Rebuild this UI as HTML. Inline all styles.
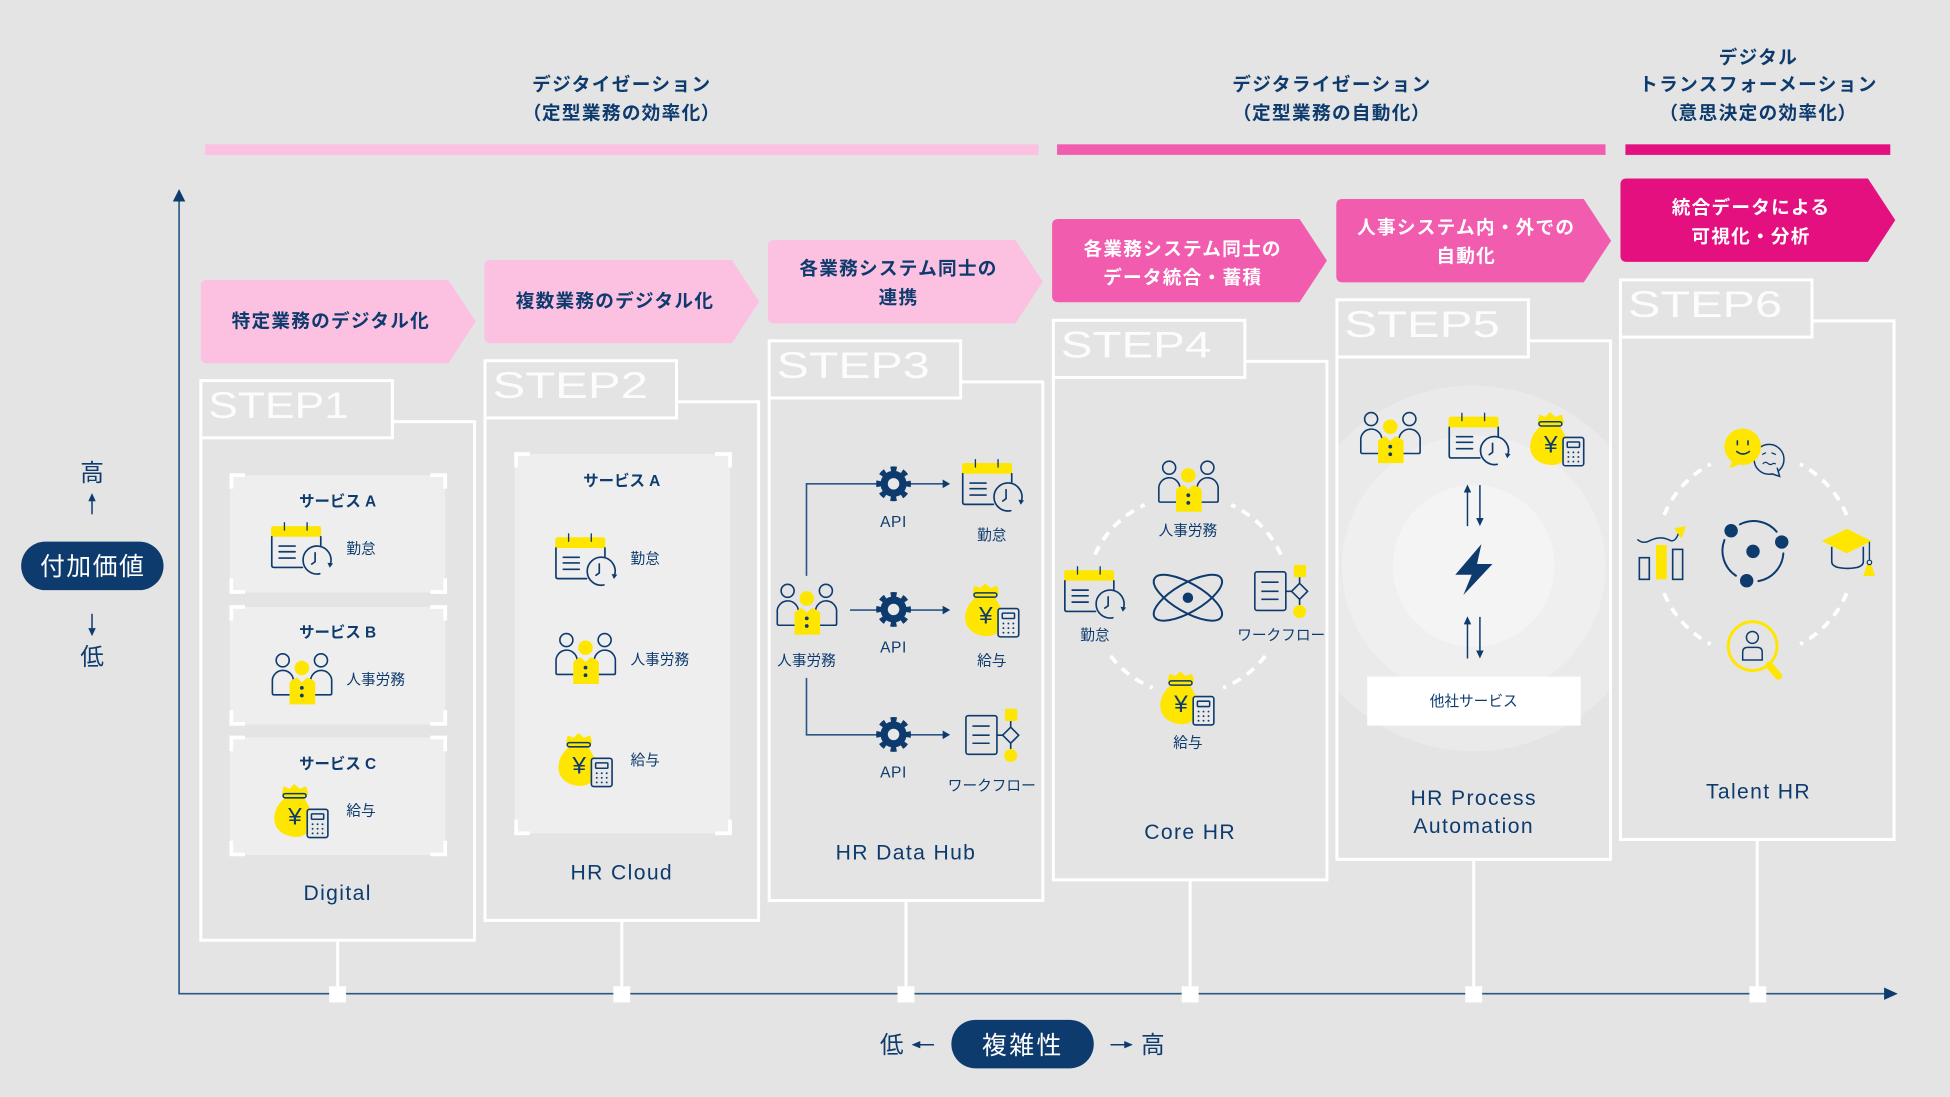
<!DOCTYPE html>
<html lang="ja">
<head>
<meta charset="utf-8">
<title>HR Steps</title>
<style>
html,body{margin:0;padding:0;background:#e4e4e4;}
svg{display:block;}
text{font-family:"Liberation Sans","Noto Sans CJK JP",sans-serif;fill:#0e3b6e;text-anchor:middle;dominant-baseline:central;transform:translateY(1px);}
.h{font-size:15px;font-weight:700;letter-spacing:1.1px;}
.hp{font-size:15px;font-weight:700;letter-spacing:1.1px;font-feature-settings:"palt";}
.a{font-size:15px;font-weight:700;letter-spacing:1px;}
.w{fill:#fff;}
.s{font-size:12.4px;font-weight:700;}
.l{font-size:11.8px;font-weight:400;}
.ll{font-size:11.8px;font-weight:400;text-anchor:start;}
.n{font-size:17px;letter-spacing:1.1px;font-weight:400;}
.st{font-size:30px;fill:#fff;text-anchor:start;dominant-baseline:alphabetic;transform:none;opacity:.92;}
.ax{font-size:19px;}
.pill{font-size:20px;fill:#fff;letter-spacing:1.2px;}
.api{font-size:12.5px;letter-spacing:.5px;}
.yen{font-size:64px;transform:none;}
</style>
</head>
<body>
<svg xmlns="http://www.w3.org/2000/svg" width="1950" height="1097" viewBox="0 0 1568 882">
<defs>
  <path id="pent" d="M5 0H199L221 33.500L199 67H5Q0 67 0 62V5Q0 0 5 0Z"/>
  <g id="box" fill="none" stroke="#fff" stroke-width="2.400">
    <rect x="0" y="0" width="154" height="46"/>
    <path d="M154 33H220V450H0V46"/>
  </g>
  <g id="cal" transform="scale(.268)" fill="none" stroke="#0e3b6e" stroke-width="5" stroke-linecap="round" stroke-linejoin="round">
    <path d="M8 10H142Q150 10 150 18V42H0V18Q0 10 8 10Z" fill="#ffe600" stroke="none"/>
    <path d="M40 0V22M108 0V22" stroke-width="4"/>
    <path d="M2 42V128Q2 134 8 134H94M149 42V68"/>
    <path d="M24 70H72M24 87H72M24 106H72"/>
    <path d="M146 153A42 42 0 1 1 178 124"/>
    <path d="M132 90V117L122 124"/>
    <path d="M169 120L186 122L176 135Z" fill="#0e3b6e" stroke="none"/>
  </g>
  <g id="ppl" transform="scale(.3077)" fill="none" stroke="#0e3b6e" stroke-width="4.200" stroke-linejoin="round">
    <circle cx="29" cy="15" r="17"/>
    <circle cx="129" cy="15" r="17"/>
    <path d="M47 105H6Q2 105 2 101V72A27 27 0 0 1 57 66"/>
    <path d="M112 105H153Q157 105 157 101V72A27 27 0 0 0 102 66"/>
    <circle cx="79" cy="35" r="19" fill="#ffe600" stroke="none"/>
    <path d="M47 74Q47 68 66 60L79 72L93 60Q114 68 114 74V130H47Z" fill="#ffe600" stroke="none"/>
    <circle cx="79" cy="87" r="5" fill="#0e3b6e" stroke="none"/>
    <circle cx="79" cy="107" r="5" fill="#0e3b6e" stroke="none"/>
  </g>
  <g id="bag" transform="scale(.3077)">
    <path d="M19 24L23 6L38 12L50 0L64 12L80 6L85 24Z" fill="#ffe600" stroke="#ffe600" stroke-width="3" stroke-linejoin="round"/>
    <path d="M26 34C6 50 -2 70 -2 88C-2 118 24 134 50 136C85 138 100 112 98 86C96 66 84 50 76 34Z" fill="#ffe600"/>
    <rect x="21" y="23" width="60" height="11" rx="5.500" fill="#ffe600" stroke="#0e3b6e" stroke-width="4"/>
    <text x="52" y="84" class="yen">¥</text>
    <rect x="84" y="64" width="54" height="74" rx="6" fill="#e9e9e9" stroke="#0e3b6e" stroke-width="4.200"/>
    <rect x="95" y="76" width="32" height="14" rx="2" fill="none" stroke="#0e3b6e" stroke-width="4"/>
    <g fill="#0e3b6e">
      <circle cx="98" cy="103" r="2.500"/><circle cx="111" cy="103" r="2.500"/><circle cx="124" cy="103" r="2.500"/>
      <circle cx="98" cy="115" r="2.500"/><circle cx="111" cy="115" r="2.500"/><circle cx="124" cy="115" r="2.500"/>
      <circle cx="98" cy="127" r="2.500"/><circle cx="111" cy="127" r="2.500"/><circle cx="124" cy="127" r="2.500"/>
    </g>
  </g>
  <g id="wf" transform="scale(.3077)" fill="none" stroke="#0e3b6e" stroke-width="4.200" stroke-linejoin="round">
    <rect x="1" y="18" width="81" height="101" rx="6"/>
    <path d="M18 45H63M18 69H63M18 90H63"/>
    <path d="M82 69H97M118 32V48M118 90V105"/>
    <path d="M118 48L139 69L118 90L97 69Z"/>
    <rect x="103" y="0" width="32" height="32" rx="3" fill="#ffe600" stroke="none"/>
    <circle cx="118" cy="122" r="17" fill="#ffe600" stroke="none"/>
  </g>
  <g id="gear">
    <circle r="10.500" fill="#0e3b6e"/>
    <circle r="12" fill="none" stroke="#0e3b6e" stroke-width="4" stroke-dasharray="4.712 4.712" stroke-dashoffset="2.356"/>
    <circle r="4.600" fill="#e8e8e8"/>
  </g>
  <clipPath id="c5"><rect x="1076" y="274" width="218" height="416"/></clipPath>
</defs>

<rect width="1568" height="882" fill="#e4e4e4"/>

<!-- headers -->
<text x="500" y="67" class="h">デジタイゼーション</text>
<text x="500" y="90" class="hp">（定型業務の効率化）</text>
<text x="1071" y="67" class="h">デジタライゼーション</text>
<text x="1071" y="90" class="hp">（定型業務の自動化）</text>
<text x="1414" y="45" class="h">デジタル</text>
<text x="1414" y="67" class="h">トランスフォーメーション</text>
<text x="1414" y="90" class="hp">（意思決定の効率化）</text>

<rect x="165" y="116" width="670" height="8.500" fill="#fcc0e1"/>
<rect x="850" y="116" width="441" height="8.500" fill="#f25cae"/>
<rect x="1307" y="116" width="213" height="8.500" fill="#e5107f"/>

<!-- axes -->
<path d="M144 160V799H1518" fill="none" stroke="#2a5688" stroke-width="1.300"/>
<path d="M144 152L149 162H139Z" fill="#0e3b6e"/>
<path d="M1526 799L1515 794V804Z" fill="#0e3b6e"/>

<!-- connectors -->
<g fill="none" stroke="#fff" stroke-width="2.400">
  <path d="M271.500 756V795M500 740V795M728.500 724V795M957 707V795M1185 691V795M1413 675V795"/>
</g>
<g fill="#fff">
  <rect x="264.700" y="793" width="13.600" height="13"/>
  <rect x="493.200" y="793" width="13.600" height="13"/>
  <rect x="721.700" y="793" width="13.600" height="13"/>
  <rect x="950.200" y="793" width="13.600" height="13"/>
  <rect x="1178.200" y="793" width="13.600" height="13"/>
  <rect x="1406.700" y="793" width="13.600" height="13"/>
</g>

<!-- left axis label -->
<text x="74" y="380" class="ax">高</text>
<path d="M74 401V413.500" stroke="#0e3b6e" stroke-width="1.200"/>
<path d="M74 396.500L77 403H71Z" fill="#0e3b6e"/>
<rect x="17" y="435.500" width="114.500" height="39" rx="19.500" fill="#0e3b6e"/>
<text x="74.500" y="455" class="pill">付加価値</text>
<path d="M74 493.500V506" stroke="#0e3b6e" stroke-width="1.200"/>
<path d="M74 511.500L77 505H71Z" fill="#0e3b6e"/>
<text x="74" y="528" class="ax">低</text>

<!-- bottom axis label -->
<text x="717" y="840" class="ax">低</text>
<path d="M738 840H751" stroke="#0e3b6e" stroke-width="1.200"/>
<path d="M733 840L740 837V843Z" fill="#0e3b6e"/>
<rect x="765" y="820" width="114.500" height="39" rx="19.500" fill="#0e3b6e"/>
<text x="822.500" y="840" class="pill" style="letter-spacing:2px">複雑性</text>
<path d="M893 840H906" stroke="#0e3b6e" stroke-width="1.200"/>
<path d="M911 840L904 837V843Z" fill="#0e3b6e"/>
<text x="927" y="840" class="ax">高</text>

<!-- arrow banners -->
<use href="#pent" x="161.500" y="225" fill="#fcc0e1"/>
<use href="#pent" x="389.500" y="209" fill="#fcc0e1"/>
<use href="#pent" x="617.500" y="193" fill="#fcc0e1"/>
<use href="#pent" x="846" y="176" fill="#f25cae"/>
<use href="#pent" x="1074.500" y="160" fill="#f25cae"/>
<use href="#pent" x="1303" y="143.500" fill="#e5107f"/>
<text x="266" y="257" class="a">特定業務のデジタル化</text>
<text x="494.500" y="241" class="a">複数業務のデジタル化</text>
<text x="722.500" y="215" class="a">各業務システム同士の</text>
<text x="722.500" y="238" class="a">連携</text>
<text x="951" y="199" class="a w">各業務システム同士の</text>
<text x="951" y="222" class="a w">データ統合・蓄積</text>
<text x="1179" y="182" class="a w">人事システム内・外での</text>
<text x="1179" y="205" class="a w">自動化</text>
<text x="1408" y="166" class="a w">統合データによる</text>
<text x="1408" y="189" class="a w">可視化・分析</text>

<!-- step 5 circles (below box lines) -->
<g clip-path="url(#c5)">
  <circle cx="1185" cy="457" r="147" fill="#eaeaea"/>
  <circle cx="1185" cy="456" r="106" fill="#efefef"/>
  <circle cx="1185" cy="455" r="65" fill="#f4f4f4"/>
</g>

<!-- boxes -->
<use href="#box" x="161.500" y="306"/>
<use href="#box" x="390" y="290"/>
<use href="#box" x="618.500" y="274"/>
<use href="#box" x="847" y="257.500"/>
<use href="#box" x="1075" y="241"/>
<use href="#box" x="1303" y="225"/>
<text x="167.500" y="336" class="st" textLength="113" lengthAdjust="spacingAndGlyphs">STEP1</text>
<text x="396" y="320" class="st" textLength="125" lengthAdjust="spacingAndGlyphs">STEP2</text>
<text x="624.500" y="304" class="st" textLength="123" lengthAdjust="spacingAndGlyphs">STEP3</text>
<text x="853" y="287.500" class="st" textLength="121" lengthAdjust="spacingAndGlyphs">STEP4</text>
<text x="1081" y="271" class="st" textLength="125" lengthAdjust="spacingAndGlyphs">STEP5</text>
<text x="1309" y="255" class="st" textLength="124" lengthAdjust="spacingAndGlyphs">STEP6</text>

<!-- step 1 cards -->
<g fill="#eeeeee">
  <rect x="185" y="382" width="173" height="94.500"/>
  <rect x="185" y="488" width="173" height="94.500"/>
  <rect x="185" y="593" width="173" height="94.500"/>
  <rect x="414" y="365" width="173" height="305"/>
</g>
<g fill="none" stroke="#fff" stroke-width="3">
  <path d="M186 393V382H197M346 382H358V393M186 465V476H197M346 476H358V465"/>
  <path d="M186 499V488H197M346 488H358V499M186 571V582H197M346 582H358V571"/>
  <path d="M186 604V593H197M346 593H358V604M186 676V687H197M346 687H358V676"/>
  <path d="M415 376V365H426M575 365H587V376M415 659V670H426M575 670H587V659"/>
</g>

<text x="271.500" y="402.500" class="s">サービス A</text>
<use href="#cal" x="218" y="420.300"/>
<text x="278.500" y="441" class="ll">勤怠</text>
<text x="271.500" y="508" class="s">サービス B</text>
<use href="#ppl" x="218.400" y="526.300"/>
<text x="278.500" y="546" class="ll">人事労務</text>
<text x="271.500" y="613.500" class="s">サービス C</text>
<use href="#bag" x="221.200" y="631"/>
<text x="278.500" y="651.500" class="ll">給与</text>
<text x="271.500" y="717.500" class="n">Digital</text>

<!-- step 2 -->
<text x="500" y="386" class="s">サービス A</text>
<use href="#cal" x="446.500" y="429.300"/>
<text x="507" y="449" class="ll">勤怠</text>
<use href="#ppl" x="446.500" y="510"/>
<text x="507" y="530" class="ll">人事労務</text>
<use href="#bag" x="449.700" y="590"/>
<text x="507" y="611" class="ll">給与</text>
<text x="500" y="701" class="n">HR Cloud</text>

<!-- step 3 -->
<g fill="none" stroke="#2a5688" stroke-width="1.300">
  <path d="M648.500 463V389H759"/>
  <path d="M683.500 490.500H759"/>
  <path d="M648.500 545V590.800H759"/>
</g>
<g fill="#0e3b6e">
  <path d="M764 389L758 385.500V392.500Z"/>
  <path d="M764 490.500L758 487V494Z"/>
  <path d="M764 590.800L758 587.300V594.300Z"/>
</g>
<use href="#gear" x="718.500" y="389"/>
<use href="#gear" x="718.500" y="490"/>
<use href="#gear" x="718.500" y="590.500"/>
<text x="718.500" y="419" class="api">API</text>
<text x="718.500" y="520" class="api">API</text>
<text x="718.500" y="620.500" class="api">API</text>
<use href="#ppl" x="624.400" y="470.400"/>
<text x="648.500" y="531" class="l">人事労務</text>
<use href="#cal" x="773.600" y="369.600"/>
<text x="797.500" y="430" class="l">勤怠</text>
<use href="#bag" x="776.700" y="469.600"/>
<text x="797.500" y="531" class="l">給与</text>
<use href="#wf" x="776.400" y="569.900"/>
<text x="797.500" y="631.500" class="l">ワークフロー</text>
<text x="728.500" y="685" class="n">HR Data Hub</text>

<!-- step 4 -->
<g fill="none" stroke="#fff" stroke-width="3" stroke-dasharray="7.500 6">
  <path d="M880.400 445.900A80.600 80.600 0 0 1 920.400 405.900"/>
  <path d="M1030 445.900A80.600 80.600 0 0 0 990 405.900"/>
  <path d="M893 527.400A80.600 80.600 0 0 0 926.900 553"/>
  <path d="M1017.400 527.400A80.600 80.600 0 0 1 983.500 553"/>
</g>
<use href="#ppl" x="931.200" y="371.400"/>
<text x="955.200" y="426.500" class="l">人事労務</text>
<use href="#cal" x="855.700" y="455.700"/>
<text x="880.400" y="510.500" class="l">勤怠</text>
<use href="#wf" x="1008.700" y="454.200"/>
<text x="1030.200" y="510.500" class="l">ワークフロー</text>
<use href="#bag" x="933.600" y="540.400"/>
<text x="955.200" y="597" class="l">給与</text>
<g fill="none" stroke="#0e3b6e" stroke-width="1.600">
  <ellipse cx="955.200" cy="480.600" rx="31" ry="11.500" transform="rotate(30 955.200 480.600)"/>
  <ellipse cx="955.200" cy="480.600" rx="31" ry="11.500" transform="rotate(-30 955.200 480.600)"/>
</g>
<circle cx="955.200" cy="480.600" r="4.200" fill="#0e3b6e"/>
<text x="957" y="668.500" class="n">Core HR</text>

<!-- step 5 -->
<use href="#ppl" x="1093.600" y="332.300"/>
<use href="#cal" x="1164.800" y="332.300"/>
<use href="#bag" x="1231" y="332"/>
<g stroke="#0e3b6e" stroke-width="1.200">
  <path d="M1180 394V423M1190 390V418M1180 500V529.500M1190 496V525"/>
</g>
<g fill="#0e3b6e">
  <path d="M1180 389.500L1183 396H1177Z"/>
  <path d="M1190 423L1193 416.500H1187Z"/>
  <path d="M1180 495.500L1183 502H1177Z"/>
  <path d="M1190 529.500L1193 523H1187Z"/>
  <path d="M1191.200 437.500L1170.200 462.100H1183.400L1176.700 478.400L1200.100 453.500H1187.700Z"/>
</g>
<rect x="1099.400" y="544" width="171.600" height="39.400" fill="#fff"/>
<text x="1185" y="563.500" class="l">他社サービス</text>
<text x="1185" y="641" class="n">HR Process</text>
<text x="1185" y="663.500" class="n">Automation</text>

<!-- step 6 -->
<g fill="none" stroke="#fff" stroke-width="3" stroke-dasharray="7.500 6">
  <path d="M1338.100 414.100A80.400 80.400 0 0 1 1375.600 373.100"/>
  <path d="M1484.900 414.100A80.400 80.400 0 0 0 1447.400 373.100"/>
  <path d="M1338.100 476.900A80.400 80.400 0 0 0 1375.600 517.900"/>
  <path d="M1484.900 476.900A80.400 80.400 0 0 1 1447.400 517.900"/>
</g>
<!-- faces -->
<circle cx="1422.500" cy="369.300" r="12" fill="#e4e4e4" stroke="#0e3b6e" stroke-width="1.200"/>
<path d="M1425 381L1431 383L1429 376" fill="#e4e4e4" stroke="#0e3b6e" stroke-width="1.200"/>
<path d="M1417 365.500L1420 364M1424.500 364L1428 365.500M1417.500 373Q1419.500 370.500 1421.500 372.500T1426 372.500L1428 373" fill="none" stroke="#0e3b6e" stroke-width="1"/>
<circle cx="1401.300" cy="359.200" r="14.700" fill="#ffe600"/>
<path d="M1394 368L1390.500 376.500L1402 372Z" fill="#ffe600"/>
<path d="M1397 354.500V357.500M1405.600 354.500V357.500M1396.500 363Q1401.300 367 1406.700 363" fill="none" stroke="#0e3b6e" stroke-width="1.300" stroke-linecap="round"/>
<!-- chart -->
<rect x="1318.200" y="448.400" width="8" height="17.400" fill="none" stroke="#0e3b6e" stroke-width="1.300"/>
<rect x="1331.600" y="438.200" width="8.600" height="27.600" fill="#ffe600"/>
<rect x="1345" y="441.700" width="8" height="24.100" fill="none" stroke="#0e3b6e" stroke-width="1.300"/>
<path d="M1316.600 433.700Q1321 437.500 1326 435T1335 432.500T1343 434.500T1350 428" fill="none" stroke="#0e3b6e" stroke-width="1.200"/>
<path d="M1355.700 423L1346.100 424.800L1352.200 432.900Z" fill="#ffe600"/>
<!-- center -->
<g fill="none" stroke="#0e3b6e" stroke-width="1.600" stroke-linecap="round">
  <path d="M1399.100 421.600A24.100 24.100 0 0 1 1428.600 427.500"/>
  <path d="M1434 444.900A24.100 24.100 0 0 1 1413.900 467.200"/>
  <path d="M1395.900 462.900A24.100 24.100 0 0 1 1386.600 434.200"/>
</g>
<g fill="#0e3b6e">
  <circle cx="1409.600" cy="443.300" r="5.400"/>
  <circle cx="1392" cy="426.700" r="5.400"/>
  <circle cx="1432.700" cy="435.800" r="5.400"/>
  <circle cx="1404.500" cy="466.900" r="5.400"/>
</g>
<!-- cap -->
<path d="M1472.900 439.600V451.600Q1472.900 457 1485.600 457Q1498.300 457 1498.300 451.600V439.600" fill="none" stroke="#0e3b6e" stroke-width="1.300"/>
<path d="M1464.900 435L1485 425.100L1505 435L1485 444.900Z" fill="#ffe600"/>
<path d="M1503.200 435.600V450.300" stroke="#0e3b6e" stroke-width="1.100"/>
<path d="M1501 454.300H1505L1507.700 463.200H1498.300Z" fill="#ffe600"/>
<circle cx="1503.200" cy="452.200" r="1.800" fill="#e4e4e4" stroke="#0e3b6e" stroke-width="1"/>
<!-- magnifier -->
<circle cx="1409.300" cy="519.500" r="19.600" fill="none" stroke="#ffe600" stroke-width="2.400"/>
<path d="M1422.600 534.900L1430 543.500" stroke="#ffe600" stroke-width="6" stroke-linecap="round"/>
<circle cx="1409.100" cy="512.500" r="4.800" fill="none" stroke="#0e3b6e" stroke-width="1.200"/>
<path d="M1401.300 530.700V524.500Q1401.300 520.500 1405.300 520.500H1413Q1417 520.500 1417 524.500V530.700Z" fill="none" stroke="#0e3b6e" stroke-width="1.200"/>
<text x="1414" y="636" class="n">Talent HR</text>
</svg>
</body>
</html>
